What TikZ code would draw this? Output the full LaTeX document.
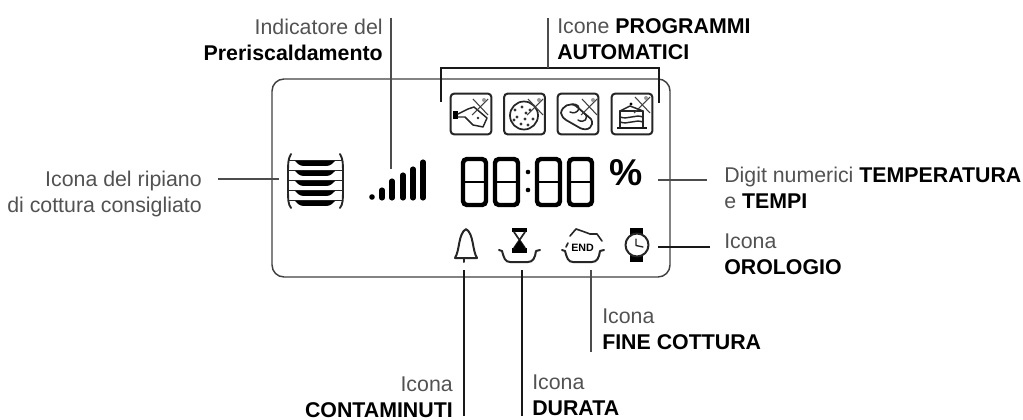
\documentclass[tikz,border=0pt]{standalone}
\usepackage{fontspec}
\setmainfont{Liberation Sans}
\newcommand{\keyword}[1]{\textcolor{black}{\textbf{#1}}}
\begin{document}
\begin{tikzpicture}[
            x=0.75pt, y=-0.75pt,
            label/.style={font=\fontsize{16}{19.5}\selectfont, inner sep=0pt, text=black!68},
            lead/.style={line width=#1, black!70},
            lead/.default=0.8pt,
            leadbold/.style={line width=1.6pt, black!90},
            frame/.style={line width=1.1pt, black!75, rounded corners=9pt},
            iconbox/.style={draw=black!85, line width=1.5pt, rounded corners=2.5pt,
                minimum size=30.5pt, inner sep=0pt},
            ink/.style={line width=1.1pt, black!85, line cap=round, line join=round},
            digit/.pic={
                \draw[black, line width=3.3pt, rounded corners=3pt] (0, 0) rectangle (23, 46);
                \draw[black, line width=2pt] (1, 23) -- (22, 23);
            },
            crossmark/.pic={
                \draw[black!75, line width=0.8pt] (-8, 8) -- (8, -8);
                \draw[black!75, line width=0.8pt] (-7, -8) -- (8, 8);
                \fill[black!40] (4, -7) circle (2);
            }
        ]
        \useasboundingbox (0, 0) rectangle (1023, 420);
        % display
        \draw[frame] (272, 79) rectangle (670, 277);
        % icons top row
        \node[iconbox] (roast) at (471, 114) {};
        \node[iconbox] (pizza) at (524.5, 114) {};
        \node[iconbox] (bread) at (578, 114) {};
        \node[iconbox] (cake) at (632, 114) {};
        \fill[black] (453, 111) rectangle (458, 119);
        \draw[ink] (458, 114) -- (468, 109) -- (474, 107) -- (487, 118) -- (483, 127) -- (473, 125) -- (465, 117) -- (458, 117);
        \fill[black!85] (478, 118) circle (1.4);
        \draw[ink, line width=1.3pt] (524, 115.5) circle (14);
        \foreach \px/\py in {515/110, 522/107, 530/110, 517/117, 526/113, 533/119, 521/124, 528/125, 514/120, 525/119}
            \fill[black!80] (\px, \py) circle (1.7);
        \draw[ink, line width=1.3pt] (561, 113) .. controls (562, 106) and (570, 102) .. (576, 106) -- (591, 119) .. controls (595, 126) and (588, 132) .. (580, 128) -- (566, 120) .. controls (563, 118) .. cycle;
        \draw[ink] (572, 104) .. controls (584, 104) and (578, 116) .. (570, 112);
        \draw[ink] (584, 113) .. controls (590, 118) and (584, 124) .. (578, 120);
        \draw[black!90, line width=1.6pt] (617, 128) -- (647, 128);
        \draw[ink] (620, 127) -- (620, 111) -- (643, 111) -- (643, 127);
        \draw[ink] (620, 111) -- (630, 106) -- (643, 111);
        \draw[ink] (620, 117) .. controls (628, 120) and (635, 114) .. (643, 117);
        \draw[ink] (620, 122) .. controls (628, 125) and (635, 119) .. (643, 122);
        \fill[black] (631, 104) circle (1.6);
        \pic at (480, 107) {crossmark};
        \pic at (535, 107) {crossmark};
        \pic at (589, 107) {crossmark};
        \pic at (642, 105) {crossmark};
        % shelves
        \node[inner sep=0pt, minimum width=41.25pt, minimum height=40.5pt] (shelf) at (315.5, 181) {};
        \draw[ink, line width=1.4pt] (291, 154) .. controls (288, 160) .. (288, 181) .. controls (288, 203) .. (291, 208);
        \draw[ink, line width=1.4pt] (340, 154) .. controls (343, 160) .. (343, 181) .. controls (343, 203) .. (340, 208);
        \foreach \sy in {160, 170, 180, 190, 200} {
            \draw[black!85, line width=0.6pt] (288, \sy) -- (343, \sy);
            \fill[black] (295, \sy+1) -- (335, \sy+1) .. controls (330, \sy+6) .. (322, \sy+6) -- (308, \sy+6) .. controls (300, \sy+6) .. cycle;
        }
        % preheat bars
        \node[inner sep=0pt, minimum size=1pt] (bars) at (391, 170) {};
        \fill[black] (372, 197) circle (2.8);
        \foreach \bx/\by in {382/188, 392/179, 403/173, 413/167, 423/160}
            \draw[black, line width=3.8pt, line cap=round] (\bx, \by+2) -- (\bx, 198);
        % digits
        \pic at (463, 159) {digit};
        \pic at (495, 159) {digit};
        \pic at (537, 159) {digit};
        \pic at (569, 159) {digit};
        \fill[black] (528, 172) circle (2.3);
        \fill[black] (528, 190) circle (2.3);
        \node[inner sep=0pt, font=\fontsize{28}{28}\bfseries\selectfont] (percent) at (626, 173) {\%};
        % bottom icons
        \node[inner sep=0pt, minimum width=17pt, minimum height=25pt] (bell) at (466, 245) {};
        \draw[ink, line width=1.5pt] (455, 258) .. controls (460, 250) and (458, 234) .. (466, 229) .. controls (474, 234) and (472, 250) .. (477, 258) -- cycle;
        \draw[ink, line width=1.5pt] (464, 258) -- (464, 262);
        \node[inner sep=0pt, minimum width=30pt, minimum height=25pt] (timer) at (519, 245) {};
        \draw[ink, line width=1.5pt] (499, 250) -- (502, 251) .. controls (504, 258) and (505, 262) .. (510, 262) -- (528, 262) .. controls (533, 262) and (535, 258) .. (536, 251) -- (540, 250);
        \fill[black] (512, 228) rectangle (527, 232);
        \fill[black] (512, 248) rectangle (527, 253);
        \draw[ink, line width=1.3pt] (514, 232) -- (525, 248);
        \draw[ink, line width=1.3pt] (525, 232) -- (514, 248);
        \fill[black] (519.5, 240) -- (525, 248) -- (514, 248) -- cycle;
        \node[inner sep=0pt, minimum width=30pt, minimum height=25pt,
            font=\fontsize{8}{9}\bfseries\selectfont] (stop) at (582.5, 248) {END};
        \draw[ink, line width=1.5pt] (562, 250) -- (565, 251) .. controls (567, 258) and (568, 262) .. (573, 262) -- (592, 262) .. controls (597, 262) and (599, 258) .. (600, 251) -- (604, 250);
        \draw[ink, line width=1.2pt] (570, 236) -- (576, 229) .. controls (582, 231) .. (590, 234) -- (597, 234) -- (602, 241);
        \draw[ink, line width=1.2pt] (566, 247) -- (568, 243);
        \node[inner sep=0pt, minimum size=18pt] (clock) at (637, 245) {};
        \fill[black] (630, 228) rectangle (643, 236);
        \fill[black] (630, 254) rectangle (643, 262);
        \draw[ink, line width=1.5pt, fill=white] (637, 245) circle (11.5);
        \draw[ink, line width=1pt] (636, 239) -- (636, 245.5) -- (643, 247);
        % labels
        \node[label, anchor=east, align=right] (preheat) at (383, 40) {Indicatore del\\\keyword{Preriscaldamento}};
        \node[label, anchor=west, align=left] (programs) at (557, 39.5) {Icone \keyword{PROGRAMMI}\\\keyword{AUTOMATICI}};
        \node[label, anchor=east, align=right] (rack) at (202, 194) {Icona del ripiano\\di cottura consigliato};
        \node[label, anchor=west, align=left] (numbers) at (724, 188) {Digit numerici \keyword{TEMPERATURA}\\e \keyword{TEMPI}};
        \node[label, anchor=west, align=left] (watch) at (724, 254) {Icona\\\keyword{OROLOGIO}};
        \node[label, anchor=west, align=left] (finish) at (602, 329.5) {Icona\\\keyword{FINE COTTURA}};
        \node[label, anchor=east, align=right] (minute) at (453, 397) {Icona\\\keyword{CONTAMINUTI}};
        \node[label, anchor=west, align=left] (length) at (532, 395.5) {Icona\\\keyword{DURATA}};
        % connectors
        \coordinate (bracketleft) at (441, 102);
        \coordinate (bracketright) at (659, 103);
        \coordinate (stemtop) at (548, 18);
        \coordinate (stemfoot) at (548, 68);
        \coordinate (preheattop) at (391, 18);
        \coordinate (racklead) at (218, 179);
        \coordinate (shelflead) at (279, 179);
        \coordinate (numberlead) at (707, 180);
        \coordinate (percentlead) at (658, 180);
        \coordinate (watchlead) at (710, 247);
        \coordinate (clocklead) at (658, 247);
        \coordinate (finishfoot) at (591, 352);
        \coordinate (finishtop) at (591, 270);
        \coordinate (minutefoot) at (464, 416);
        \coordinate (belllead) at (464, 270);
        \coordinate (lengthfoot) at (522, 416);
        \coordinate (timerlead) at (522, 270);
        \draw[leadbold, line width=1.5pt] (bracketleft) |- (stemfoot) -| (bracketright);
        \draw[lead] (stemtop) -- (stemfoot);
        \draw[lead=1pt] (preheattop) -- (bars);
        \draw[lead] (racklead) -- (shelflead);
        \draw[lead] (numberlead) -- (percentlead);
        \draw[leadbold, line width=1.2pt] (watchlead) -- (clocklead);
        \draw[lead=1.1pt] (finishfoot) -- (finishtop);
        \draw[leadbold] (minutefoot) -- (belllead);
        \draw[leadbold] (lengthfoot) -- (timerlead);
    \end{tikzpicture}
\end{document}
